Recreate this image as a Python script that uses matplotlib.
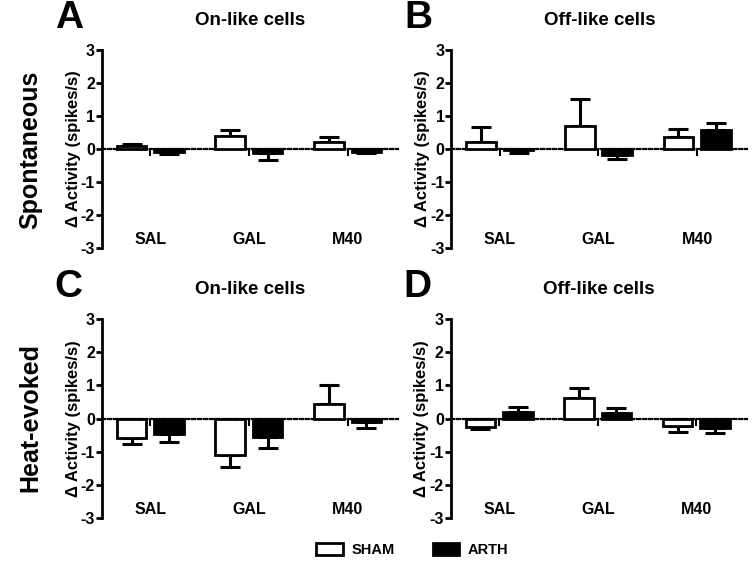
import numpy as np
import matplotlib.pyplot as plt
from matplotlib.patches import Patch

plt.rcParams['font.family'] = ['Liberation Sans', 'DejaVu Sans']
plt.rcParams['font.weight'] = 'bold'
plt.rcParams['axes.unicode_minus'] = False

# dados
grupos = ['SAL', 'GAL', 'M40']

sham_A = [0.10, 0.38, 0.22]
sham_A_err = [0.05, 0.18, 0.13]
arth_A = [-0.10, -0.13, -0.08]
arth_A_err = [0.04, 0.20, 0.03]

sham_B = [0.22, 0.70, 0.35]
sham_B_err = [0.43, 0.82, 0.25]
arth_B = [-0.03, -0.17, 0.58]
arth_B_err = [0.10, 0.14, 0.22]

sham_C = [-0.60, -1.10, 0.45]
sham_C_err = [0.17, 0.37, 0.55]
arth_C = [-0.47, -0.57, -0.10]
arth_C_err = [0.23, 0.32, 0.18]

sham_D = [-0.25, 0.63, -0.22]
sham_D_err = [0.07, 0.30, 0.20]
arth_D = [0.20, 0.18, -0.30]
arth_D_err = [0.15, 0.14, 0.13]

paineis = [
    ('A', 'On-like cells', sham_A, sham_A_err, arth_A, arth_A_err),
    ('B', 'Off-like cells', sham_B, sham_B_err, arth_B, arth_B_err),
    ('C', 'On-like cells', sham_C, sham_C_err, arth_C, arth_C_err),
    ('D', 'Off-like cells', sham_D, sham_D_err, arth_D, arth_D_err),
]

# posições dos eixos em fração da figura
posicoes = [
    [0.135, 0.558, 0.392, 0.353],
    [0.598, 0.558, 0.392, 0.353],
    [0.135, 0.077, 0.392, 0.354],
    [0.597, 0.077, 0.392, 0.354],
]


def erro_unilateral(vals, errs):
    # erro só para o lado da barra
    baixo = [e if v < 0 else 0 for v, e in zip(vals, errs)]
    cima = [e if v >= 0 else 0 for v, e in zip(vals, errs)]
    return [baixo, cima]


fig = plt.figure(figsize=(7.55, 5.61), dpi=100)
x = np.arange(len(grupos))
w = 0.30
desloc = 0.19

for (letra, titulo, s, se, a, ae), pos in zip(paineis, posicoes):
    ax = fig.add_axes(pos)
    ax.errorbar(x - desloc, s, yerr=erro_unilateral(s, se), fmt='none',
                ecolor='black', elinewidth=2.2, capsize=7, capthick=2.2, zorder=2)
    ax.errorbar(x + desloc, a, yerr=erro_unilateral(a, ae), fmt='none',
                ecolor='black', elinewidth=2.2, capsize=7, capthick=2.2, zorder=2)
    ax.bar(x - desloc, s, w, color='white', edgecolor='black', linewidth=2, zorder=3)
    ax.bar(x + desloc, a, w, color='black', edgecolor='black', linewidth=2, zorder=3)

    ax.set_xlim(-0.49, 2.51)
    ax.set_ylim(-3, 3)
    ax.set_yticks([-3, -2, -1, 0, 1, 2, 3])
    ax.set_xticks(x)
    ax.set_xticklabels([])
    ax.spines['top'].set_visible(False)
    ax.spines['right'].set_visible(False)
    ax.spines['left'].set_linewidth(2)
    ax.spines['bottom'].set_position(('data', 0))
    ax.spines['bottom'].set_linewidth(1.6)
    ax.spines['bottom'].set_linestyle((0, (1.5, 1.2)))
    ax.tick_params(axis='y', direction='out', length=4, width=2, labelsize=11.5, pad=1)
    ax.tick_params(axis='x', direction='out', length=5, width=1.5)
    for t in ax.get_yticklabels():
        t.set_fontweight('bold')
    ax.set_ylabel('Δ Activity (spikes/s)', fontsize=12, fontweight='bold', labelpad=0)

    for xi, g in zip(x, grupos):
        ax.text(xi, -2.75, g, ha='center', va='center', fontsize=11.5, fontweight='bold')

    # letra e título do painel
    ax.text(-0.112, 1.16, letra, transform=ax.transAxes, fontsize=28,
            fontweight='bold', ha='center', va='center')
    ax.text(0.5, 1.15, titulo, transform=ax.transAxes, fontsize=13.5,
            fontweight='bold', ha='center', va='center')

fig.text(0.04, 0.733, 'Spontaneous', rotation=90, fontsize=18,
         fontweight='bold', ha='center', va='center')
fig.text(0.04, 0.255, 'Heat-evoked', rotation=90, fontsize=18,
         fontweight='bold', ha='center', va='center')

legenda = [Patch(facecolor='white', edgecolor='black', linewidth=2, label='SHAM'),
           Patch(facecolor='black', edgecolor='black', linewidth=2, label='ARTH')]
fig.legend(handles=legenda, loc='center', bbox_to_anchor=(0.546, 0.02), ncol=2,
           frameon=False, prop={'weight': 'bold', 'size': 10.5},
           handlelength=1.8, handleheight=0.9, handletextpad=0.6, columnspacing=2.6)

fig.savefig('out.png', dpi=100)
